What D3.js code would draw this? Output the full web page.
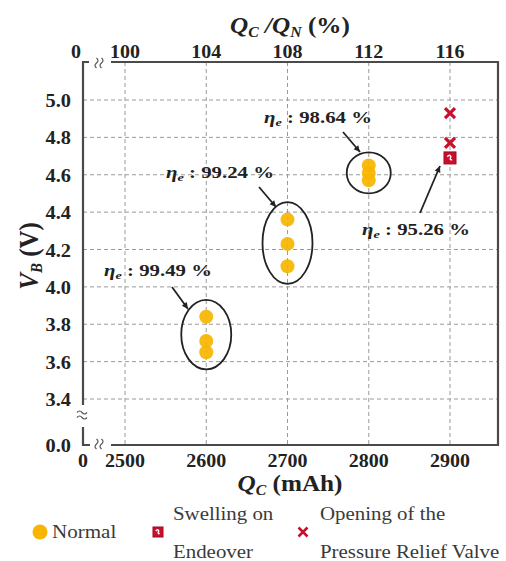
<!DOCTYPE html>
<html>
<head>
<meta charset="utf-8">
<script src="https://cdn.jsdelivr.net/npm/d3@7/dist/d3.min.js"></script>
<style>
  html, body { margin: 0; padding: 0; background: #fff; }
  svg { display: block; }
</style>
</head>
<body>
<svg id="chart" width="506" height="561" font-family="'Liberation Serif', 'DejaVu Serif', serif"></svg>
<script>
// Charge capacity (mAh) and battery voltage (V) per test condition
const normalQ = [2600, 2600, 2600, 2700, 2700, 2700, 2800, 2800, 2800];
const normalV = [3.84, 3.71, 3.65, 4.36, 4.23, 4.11, 4.65, 4.61, 4.57];
const swellQ = [2900];
const swellV = [4.69];
const ventQ = [2900, 2900];
const ventV = [4.93, 4.77];

// Coulombic efficiency per capacity group
const effQ = [2600, 2700, 2800, 2900];
const effLabel = ["99.49", "99.24", "98.64", "95.26"];

// Axis ticks
const xTicks = [2500, 2600, 2700, 2800, 2900];
const yTicks = [3.4, 3.6, 3.8, 4.0, 4.2, 4.4, 4.6, 4.8, 5.0];
const nominalQ = 2500; // Q_N used for the top percentage axis

const svg = d3.select("#chart");
const ink = "#222";

const x = d3.scaleLinear().domain([2500, 2900]).range([125, 450]);
const y = d3.scaleLinear().domain([3.4, 5.0]).range([399, 100]);
const pct = d3.scaleLinear().domain([100, 116]).range([x(2500), x(2900)]);

const pL = 83, pR = 498, pT = 62, pB = 445;

// text placed at (px, py) and widened horizontally by sx
function wideText(g, px, py, sx, anchor) {
  return g.append("text")
    .attr("transform", `translate(${px},${py}) scale(${sx},1)`)
    .attr("text-anchor", anchor || "middle");
}

// grid
const grid = svg.append("g").attr("stroke", "#9a9a9a").attr("stroke-width", 1)
  .attr("stroke-dasharray", "4,3");
grid.selectAll("line.v").data(xTicks).join("line")
  .attr("x1", d => x(d)).attr("x2", d => x(d)).attr("y1", pT).attr("y2", pB);
grid.selectAll("line.h").data(yTicks).join("line")
  .attr("x1", pL).attr("x2", pR).attr("y1", d => y(d)).attr("y2", d => y(d));

// frame with axis breaks
const frame = svg.append("g").attr("stroke", "#4a4a4a").attr("stroke-width", 2.2).attr("fill", "none");
frame.append("path").attr("d", `M${pL},${pB - 18}V${pB}H${pL + 7}`);
frame.append("path").attr("d", `M${pL},${pB - 40}V${pT}H${pL + 6}`);
frame.append("path").attr("d", `M${pL + 28},${pT}H${pR}V${pB}H${pL + 28}`);

// break marks
const brk = svg.append("g").attr("stroke", "#555").attr("stroke-width", 1.2).attr("fill", "none");
function hBreak(cx, cy) {
  [-2.5, 2.5].forEach(o => brk.append("path")
    .attr("d", `M${cx + o - 1},${cy - 5}q3,2.5 0,5q-3,2.5 0,5`));
}
function vBreak(cx, cy) {
  [-2.5, 2.5].forEach(o => brk.append("path")
    .attr("d", `M${cx - 5},${cy + o}q2.5,-3 5,0q2.5,3 5,0`));
}
hBreak(100, pT + 1);
hBreak(100, pB - 1);
vBreak(pL - 1, 415);

// tick labels
const tl = svg.append("g").attr("font-size", 18.5).attr("font-weight", "bold").attr("fill", ink);
xTicks.forEach(d => wideText(tl, x(d), 467, 1.08).text(d));
wideText(tl, pL, 467, 1.08).text("0");
xTicks.forEach(d => wideText(tl, pct(d / nominalQ * 100), 58, 1.08).text(Math.round(d / nominalQ * 100)));
wideText(tl, pL - 7, 58, 1.08).text("0");
yTicks.forEach(d => wideText(tl, 71, y(d) + 7, 1.1, "end").text(d.toFixed(1)));
wideText(tl, 71, pB + 7, 1.1, "end").text("0.0");

// axis titles
const xt = wideText(svg, 290, 491, 1.05).attr("font-size", 24).attr("font-weight", "bold").attr("fill", ink);
xt.append("tspan").attr("font-style", "italic").text("Q");
xt.append("tspan").attr("font-style", "italic").attr("font-size", 15).attr("dy", 4).text("C");
xt.append("tspan").attr("dy", -4).text(" (mAh)");

const tt = wideText(svg, 290, 33, 1.05).attr("font-size", 24).attr("font-weight", "bold").attr("fill", ink);
tt.append("tspan").attr("font-style", "italic").text("Q");
tt.append("tspan").attr("font-style", "italic").attr("font-size", 15).attr("dy", 4).text("C");
tt.append("tspan").attr("dy", -4).attr("font-style", "italic").text(" /Q");
tt.append("tspan").attr("font-style", "italic").attr("font-size", 15).attr("dy", 4).text("N");
tt.append("tspan").attr("dy", -4).text(" (%)");

const yt = svg.append("text").attr("transform", "translate(38,256) rotate(-90) scale(1,1.1)")
  .attr("text-anchor", "middle").attr("font-size", 25).attr("font-weight", "bold").attr("fill", ink);
yt.append("tspan").attr("font-style", "italic").text("V");
yt.append("tspan").attr("font-style", "italic").attr("font-size", 15).attr("dy", 4).text("B");
yt.append("tspan").attr("dy", -4).text(" (V)");

// group outlines around the normal points
const gold = "#F7B500", red = "#C8102E";
const ringPad = [17, 17.5, 13];
const groups = effQ.slice(0, 3).map((q, k) => {
  const vs = normalV.filter((v, i) => normalQ[i] === q);
  return { q, lo: d3.min(vs), hi: d3.max(vs), pad: ringPad[k] };
});
svg.append("g").selectAll("ellipse").data(groups).join("ellipse")
  .attr("cx", d => x(d.q))
  .attr("cy", d => (y(d.lo) + y(d.hi)) / 2)
  .attr("rx", d => d.q === 2800 ? 22 : 25)
  .attr("ry", d => (y(d.lo) - y(d.hi)) / 2 + d.pad)
  .attr("fill", "none").attr("stroke", ink).attr("stroke-width", 1.8);

// normal points
svg.append("g").selectAll("circle").data(normalQ.map((q, i) => [q, normalV[i]])).join("circle")
  .attr("cx", d => x(d[0])).attr("cy", d => y(d[1])).attr("r", 7)
  .attr("fill", gold).attr("opacity", 0.92);

// vent-opening crosses
function cross(g, cx, cy, s, w) {
  g.append("path").attr("d", `M${cx - s},${cy - s}L${cx + s},${cy + s}M${cx - s},${cy + s}L${cx + s},${cy - s}`)
    .attr("stroke", red).attr("stroke-width", w).attr("fill", "none");
}
const vg = svg.append("g");
ventQ.forEach((q, i) => cross(vg, x(q), y(ventV[i]), 5, 3.2));

// swelling squares
function swellMark(g, cx, cy, s) {
  g.append("rect").attr("x", cx - s).attr("y", cy - s).attr("width", 2 * s).attr("height", 2 * s)
    .attr("fill", red).attr("stroke", "#9e0b22").attr("stroke-width", 1);
  g.append("path").attr("d", `M${cx - s * 0.45},${cy - s * 0.2}q${s * 0.4},${-s * 0.5} ${s * 0.6},0q${-s * 0.3},${s * 0.6} ${s * 0.2},${s * 0.5}`)
    .attr("stroke", "#fff").attr("stroke-width", 1.4).attr("fill", "none");
}
const sg = svg.append("g");
swellQ.forEach((q, i) => swellMark(sg, x(q), y(swellV[i]), 6));

// efficiency annotations
const ann = [
  { tx: 158, ty: 276, a: [172, 287, 188, 309] },
  { tx: 220, ty: 178, a: [259, 187, 276, 207] },
  { tx: 318, ty: 123, a: [343, 132, 360, 152] },
  { tx: 416, ty: 235, a: [420, 213, 440, 166] }
];
const ag = svg.append("g");
ann.forEach((d, i) => {
  const t = wideText(ag, d.tx, d.ty, 1.3).attr("font-size", 16).attr("font-weight", "bold").attr("fill", ink);
  t.append("tspan").attr("font-style", "italic").text("η");
  t.append("tspan").attr("font-style", "italic").attr("font-size", 11).attr("dy", 3).text("e");
  t.append("tspan").attr("dy", -3).text(` : ${effLabel[i]} %`);
  const [x1, y1, x2, y2] = d.a;
  ag.append("line").attr("x1", x1).attr("y1", y1).attr("x2", x2).attr("y2", y2)
    .attr("stroke", ink).attr("stroke-width", 1.8);
  const ang = Math.atan2(y2 - y1, x2 - x1), L = 7, W = 0.45;
  ag.append("path")
    .attr("d", `M${x2},${y2}L${x2 - L * Math.cos(ang - W)},${y2 - L * Math.sin(ang - W)}L${x2 - L * Math.cos(ang + W)},${y2 - L * Math.sin(ang + W)}Z`)
    .attr("fill", ink);
});

// legend
const lg = svg.append("g").attr("font-size", 18).attr("fill", "#3a3a3a");
lg.append("circle").attr("cx", 40).attr("cy", 532).attr("r", 7.5).attr("fill", gold);
wideText(lg, 52, 538, 1.17, "start").text("Normal");
swellMark(lg, 158, 532, 5);
wideText(lg, 173, 520, 1.16, "start").text("Swelling on");
wideText(lg, 173, 558, 1.16, "start").text("Endeover");
cross(lg, 303, 532, 4.5, 2.6);
wideText(lg, 320, 520, 1.16, "start").text("Opening of the");
wideText(lg, 320, 558, 1.16, "start").text("Pressure Relief Valve");
</script>
</body>
</html>
